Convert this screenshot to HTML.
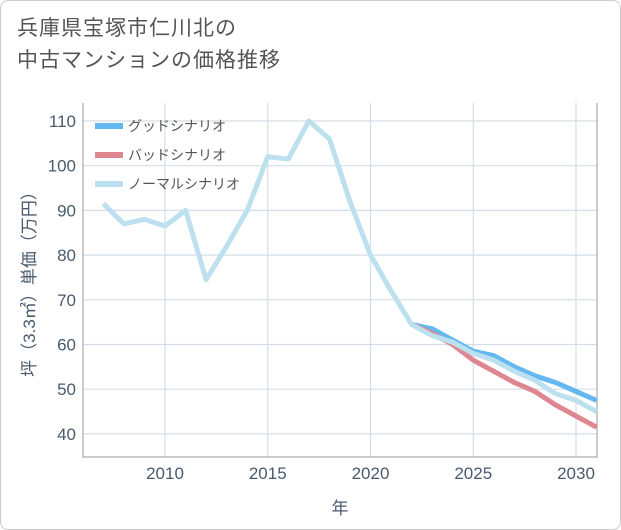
<!DOCTYPE html>
<html><head><meta charset="utf-8"><style>
body{margin:0;background:#fff;font-family:"Liberation Sans","Noto Sans CJK JP",sans-serif;}
#wrap{position:relative;width:619px;height:528px;border:1px solid #ccc;border-radius:8px;overflow:hidden;background:#fff}
#title{position:absolute;left:16px;top:12px;font-size:21px;line-height:32px;color:#555;letter-spacing:1px}
svg text{font-family:"Liberation Sans","Noto Sans CJK JP",sans-serif}
</style></head><body>
<div id="wrap">
<div id="title">兵庫県宝塚市仁川北の<br>中古マンションの価格推移</div>
<svg id="chart" width="621" height="530" style="position:absolute;left:-1px;top:-1px"></svg>
</div>
<script>
const normalYears=[2007,2008,2009,2010,2011,2012,2013,2014,2015,2016,2017,2018,2019,2020,2021,2022,2023,2024,2025,2026,2027,2028,2029,2030,2031];
const normalVals=[91.5,87,88,86.5,90,74.5,82,90,102,101.5,110,106,92,80,72,64.5,62,60.5,58,56.5,54,52,49,47.5,45];
const forecastYears=[2022,2023,2024,2025,2026,2027,2028,2029,2030,2031];
const goodVals=[64.5,63.5,61,58.5,57.5,55,53,51.5,49.5,47.5];
const badVals=[64.5,62.5,60,56.5,54,51.5,49.5,46.5,44,41.5];
const xTicks=[2010,2015,2020,2025,2030];
const yTicks=[40,50,60,70,80,90,100,110];
const L=83,R=597,T=103,B=457;
const x=v=>165+(v-2010)*20.55;
const y=v=>121+(110-v)*4.47;
const svg=document.getElementById('chart');
const NS='http://www.w3.org/2000/svg';
function mk(t,a){const e=document.createElementNS(NS,t);for(const k in a)e.setAttribute(k,a[k]);svg.appendChild(e);return e;}
yTicks.forEach(v=>{
 const g=mk('line',{x1:L,x2:R,y1:y(v),y2:y(v),stroke:'#d3dee8','stroke-width':1.2});
 
 
 const t=mk('text',{x:L-7,y:y(v)+6,'text-anchor':'end','font-size':17,fill:'#4a5a6e'});
 t.textContent=v;
 
 
});
xTicks.forEach(v=>{
 const g=mk('line',{x1:x(v),x2:x(v),y1:T,y2:B,stroke:'#d3dee8','stroke-width':1.2});
 
 
 const t=mk('text',{x:x(v),y:B+22,'text-anchor':'middle','font-size':17,fill:'#4a5a6e'});
 t.textContent=v;
 
 
});
const ax=mk('path',{d:`M${L},${T}V${B}H${R}V${T}`,fill:'none',stroke:'#999','stroke-width':1});


function line(xs,vs,c,name){
 const p=mk('polyline',{points:xs.map((a,i)=>x(a)+','+y(vs[i])).join(' '),fill:'none',stroke:c,'stroke-width':5,'stroke-linejoin':'round'});
 
 
}
line(forecastYears,goodVals,'#63b8f0','good-scenario-line');
line(forecastYears,badVals,'#de8790','bad-scenario-line');
line(normalYears,normalVals,'#bde0ef','normal-scenario-line');
const leg=[['グッドシナリオ','#63b8f0'],['バッドシナリオ','#de8790'],['ノーマルシナリオ','#bde0ef']];
leg.forEach((l,i)=>{
 const yy=126+i*29;
 const r=mk('rect',{x:95,y:yy-3,width:28,height:6,fill:l[1]});
 
 
 const t=mk('text',{x:128,y:yy+5,'font-size':14,fill:'#555'});
 t.textContent=l[0];
 
 
});
const xt=mk('text',{x:340,y:514,'text-anchor':'middle','font-size':17,fill:'#4a5a6e'});
xt.textContent='年';


const yt=mk('text',{x:0,y:0,'text-anchor':'middle','font-size':17,fill:'#4a5a6e',transform:'translate(35,280) rotate(-90)'});
yt.textContent='坪（3.3㎡）単価（万円）';


</script>
</body></html>
